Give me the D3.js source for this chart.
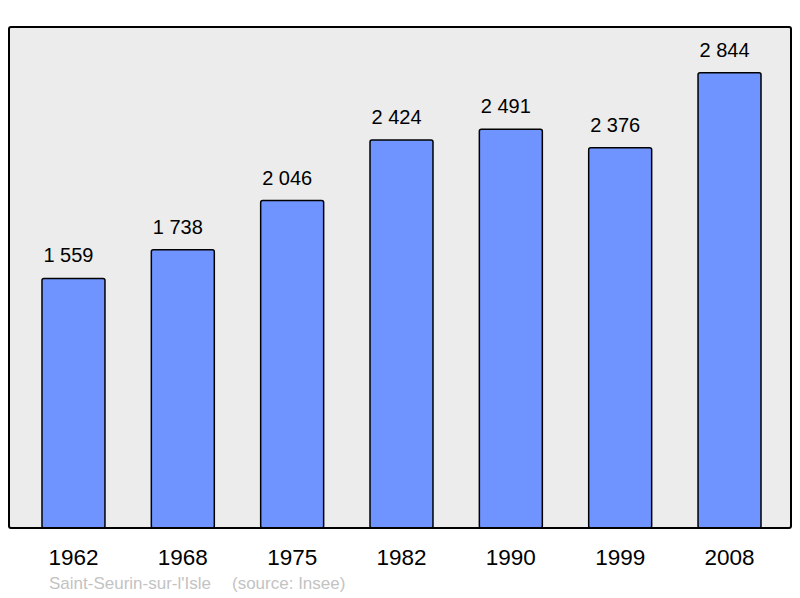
<!DOCTYPE html>
<html>
<head>
<meta charset="utf-8">
<script src="https://cdn.jsdelivr.net/npm/d3@7"></script>
<style>
  body { margin: 0; background: #ffffff; }
  text { font-family: "Liberation Sans", Arial, sans-serif; }
</style>
</head>
<body>
<script>
// population data
var years = ["1962", "1968", "1975", "1982", "1990", "1999", "2008"];
var population = [1559, 1738, 2046, 2424, 2491, 2376, 2844];
var valueLabels = ["1 559", "1 738", "2 046", "2 424", "2 491", "2 376", "2 844"];
var commune = "Saint-Seurin-sur-l'Isle";
var source = "(source: Insee)";

var w = 800, h = 598;
var frame = { left: 9, top: 27, right: 791, bottom: 528 };

var svg = d3.select("body")
    .append("svg")
    .attr("width", w)
    .attr("height", h);

// plot background
svg.append("rect")
    .attr("x", frame.left)
    .attr("y", frame.top)
    .attr("width", frame.right - frame.left)
    .attr("height", frame.bottom - frame.top)
    .attr("rx", 2)
    .attr("fill", "#ececec");

var x = d3.scaleBand()
    .domain(years)
    .range([frame.left + 1.5, frame.right + 1.5])
    .paddingInner(0.424)
    .paddingOuter(0.288);

var y = d3.scaleLinear()
    .domain([0, 3130])
    .range([frame.bottom, frame.top]);

svg.selectAll("rect.bar")
    .data(population)
    .enter()
    .append("rect")
    .attr("class", "bar")
    .attr("x", function(d, i) { return x(years[i]); })
    .attr("y", function(d) { return y(d); })
    .attr("width", x.bandwidth())
    .attr("height", function(d) { return y(0) - y(d); })
    .attr("rx", 2)
    .attr("fill", "#7094ff")
    .attr("stroke", "#000")
    .attr("stroke-width", 1.5);

// value labels above bars (sit a little left of the bar centre)
svg.selectAll("text.val")
    .data(population)
    .enter()
    .append("text")
    .attr("class", "val")
    .attr("x", function(d, i) { return x(years[i]) + x.bandwidth() / 2 - 5; })
    .attr("y", function(d) { return y(d) - 16; })
    .attr("text-anchor", "middle")
    .attr("font-size", 20)
    .attr("fill", "#000")
    .text(function(d, i) { return valueLabels[i]; });

// frame drawn over the bars bottoms
svg.append("rect")
    .attr("x", frame.left)
    .attr("y", frame.top)
    .attr("width", frame.right - frame.left)
    .attr("height", frame.bottom - frame.top)
    .attr("rx", 2)
    .attr("fill", "none")
    .attr("stroke", "#000")
    .attr("stroke-width", 2);

// year labels
var xAxis = d3.axisBottom(x).tickSize(0).tickPadding(0);
var gx = svg.append("g")
    .attr("transform", "translate(0," + 565 + ")")
    .call(xAxis);
gx.select(".domain").remove();
gx.selectAll("text")
    .attr("dy", 0)
    .attr("font-size", 22.5)
    .attr("font-family", "'Liberation Sans', Arial, sans-serif")
    .attr("fill", "#000");

// footer
svg.append("text")
    .attr("x", 49)
    .attr("y", 589)
    .attr("font-size", 17)
    .attr("fill", "#c3c3c3")
    .text(commune);
svg.append("text")
    .attr("x", 232)
    .attr("y", 589)
    .attr("font-size", 17)
    .attr("fill", "#c3c3c3")
    .text(source);
</script>
</body>
</html>
